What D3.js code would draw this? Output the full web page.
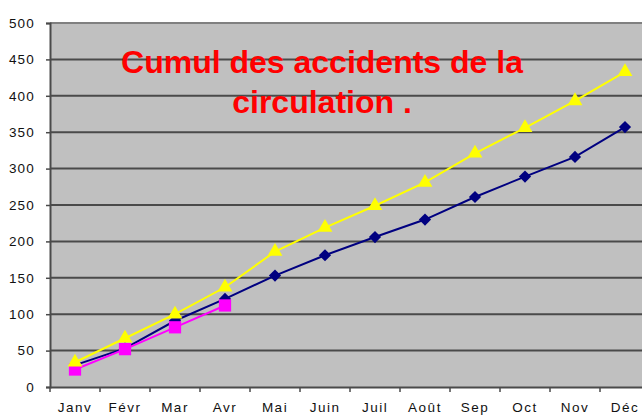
<!DOCTYPE html>
<html><head><meta charset="utf-8">
<script src="https://cdn.jsdelivr.net/npm/d3@7"></script>
<style>body{margin:0;background:#fff;overflow:hidden}svg{display:block}</style>
</head><body>
<svg id="c" width="642" height="417"></svg>
<script>
const months = ["Janv","Févr","Mar","Avr","Mai","Juin","Juil","Août","Sep","Oct","Nov","Déc"];
const yTicks = [0,50,100,150,200,250,300,350,400,450,500];
const seriesNavy = [30,53,91,121,153,181,206,230,261,289,316,357];
const seriesMagenta = [24,52,82,112];
const seriesYellow = [34,67,100,137,186,219,249,281,321,356,393,433];
const titleLines = ["Cumul des accidents de la","circulation ."];

(function(){
const svg = d3.select("#c");
const pL = 50, pR = 650, pT = 23, pB = 387;
const x = d3.scaleBand().domain(months).range([pL, pR]);
const y = d3.scaleLinear().domain([0, 500]).range([pB, pT]);

svg.append("rect").attr("x", pL).attr("y", pT).attr("width", pR-pL).attr("height", pB-pT).attr("fill", "#c0c0c0");

svg.append("g").selectAll("line").data(yTicks.filter(d => d>0 && d<500)).join("line")
  .attr("x1", pL).attr("x2", pR).attr("y1", d=>y(d)).attr("y2", d=>y(d))
  .attr("stroke", "#4a4a4a").attr("stroke-width", 2);
svg.append("line").attr("x1", pL).attr("x2", pR).attr("y1", y(500)).attr("y2", y(500))
  .attr("stroke", "#808080").attr("stroke-width", 2);

const yAxis = d3.axisLeft(y).tickValues(yTicks).tickSize(4).tickPadding(11).tickFormat(d3.format("d"));
const gy = svg.append("g").attr("transform", `translate(${pL},0)`).call(yAxis);
gy.select(".domain").attr("stroke", "#4a4a4a").attr("stroke-width", 2);
gy.selectAll(".tick line").attr("stroke", "#4a4a4a").attr("stroke-width", 1.5);
gy.selectAll("text").attr("font-family", "Liberation Sans, Arial, sans-serif").attr("font-size", 13.5)
  .attr("letter-spacing", 1.2).attr("fill", "#111");

const gx = svg.append("g").attr("transform", `translate(0,${pB})`)
  .call(d3.axisBottom(x).tickSize(0).tickPadding(15));
gx.select(".domain").attr("stroke", "#4a4a4a").attr("stroke-width", 2);
gx.selectAll("text").attr("font-family", "Liberation Sans, Arial, sans-serif").attr("font-size", 13.5)
  .attr("letter-spacing", 1.5).attr("fill", "#111");
svg.append("g").selectAll("line").data(months).join("line")
  .attr("x1", d=>x(d)).attr("x2", d=>x(d)).attr("y1", pB).attr("y2", pB+5)
  .attr("stroke", "#4a4a4a").attr("stroke-width", 1.5);

const cx = d => x(months[d.i]) + x.bandwidth()/2;
const line = d3.line().x(cx).y(d => y(d.v));
const toPts = arr => arr.map((v,i)=>({i, v}));

svg.append("path").datum(toPts(seriesNavy)).attr("d", line).attr("fill","none").attr("stroke","#000080").attr("stroke-width",2);
svg.append("g").selectAll("path").data(toPts(seriesNavy)).join("path")
  .attr("d", d3.symbol().type(d3.symbolDiamond2).size(95))
  .attr("transform", d=>`translate(${cx(d)},${y(d.v)})`).attr("fill","#000080");
svg.append("path").datum(toPts(seriesMagenta)).attr("d", line).attr("fill","none").attr("stroke","#ff00ff").attr("stroke-width",2);
svg.append("g").selectAll("path").data(toPts(seriesMagenta)).join("path")
  .attr("d", d3.symbol().type(d3.symbolSquare).size(150))
  .attr("transform", d=>`translate(${cx(d)},${y(d.v)})`).attr("fill","#ff00ff");
svg.append("path").datum(toPts(seriesYellow)).attr("d", line).attr("fill","none").attr("stroke","#ffff00").attr("stroke-width",2);
svg.append("g").selectAll("path").data(toPts(seriesYellow)).join("path")
  .attr("d", d3.symbol().type(d3.symbolTriangle).size(95))
  .attr("transform", d=>`translate(${cx(d)},${y(d.v)})`).attr("fill","#ffff00");

svg.append("g").selectAll("text").data(titleLines).join("text")
  .attr("x", 322).attr("y", (d,i)=> 73 + i*40)
  .attr("text-anchor","middle").attr("font-family","Liberation Sans, Arial, sans-serif")
  .attr("font-weight","bold").attr("font-size",32).attr("fill","#ff0000").text(d=>d);
})();
</script>
</body></html>
